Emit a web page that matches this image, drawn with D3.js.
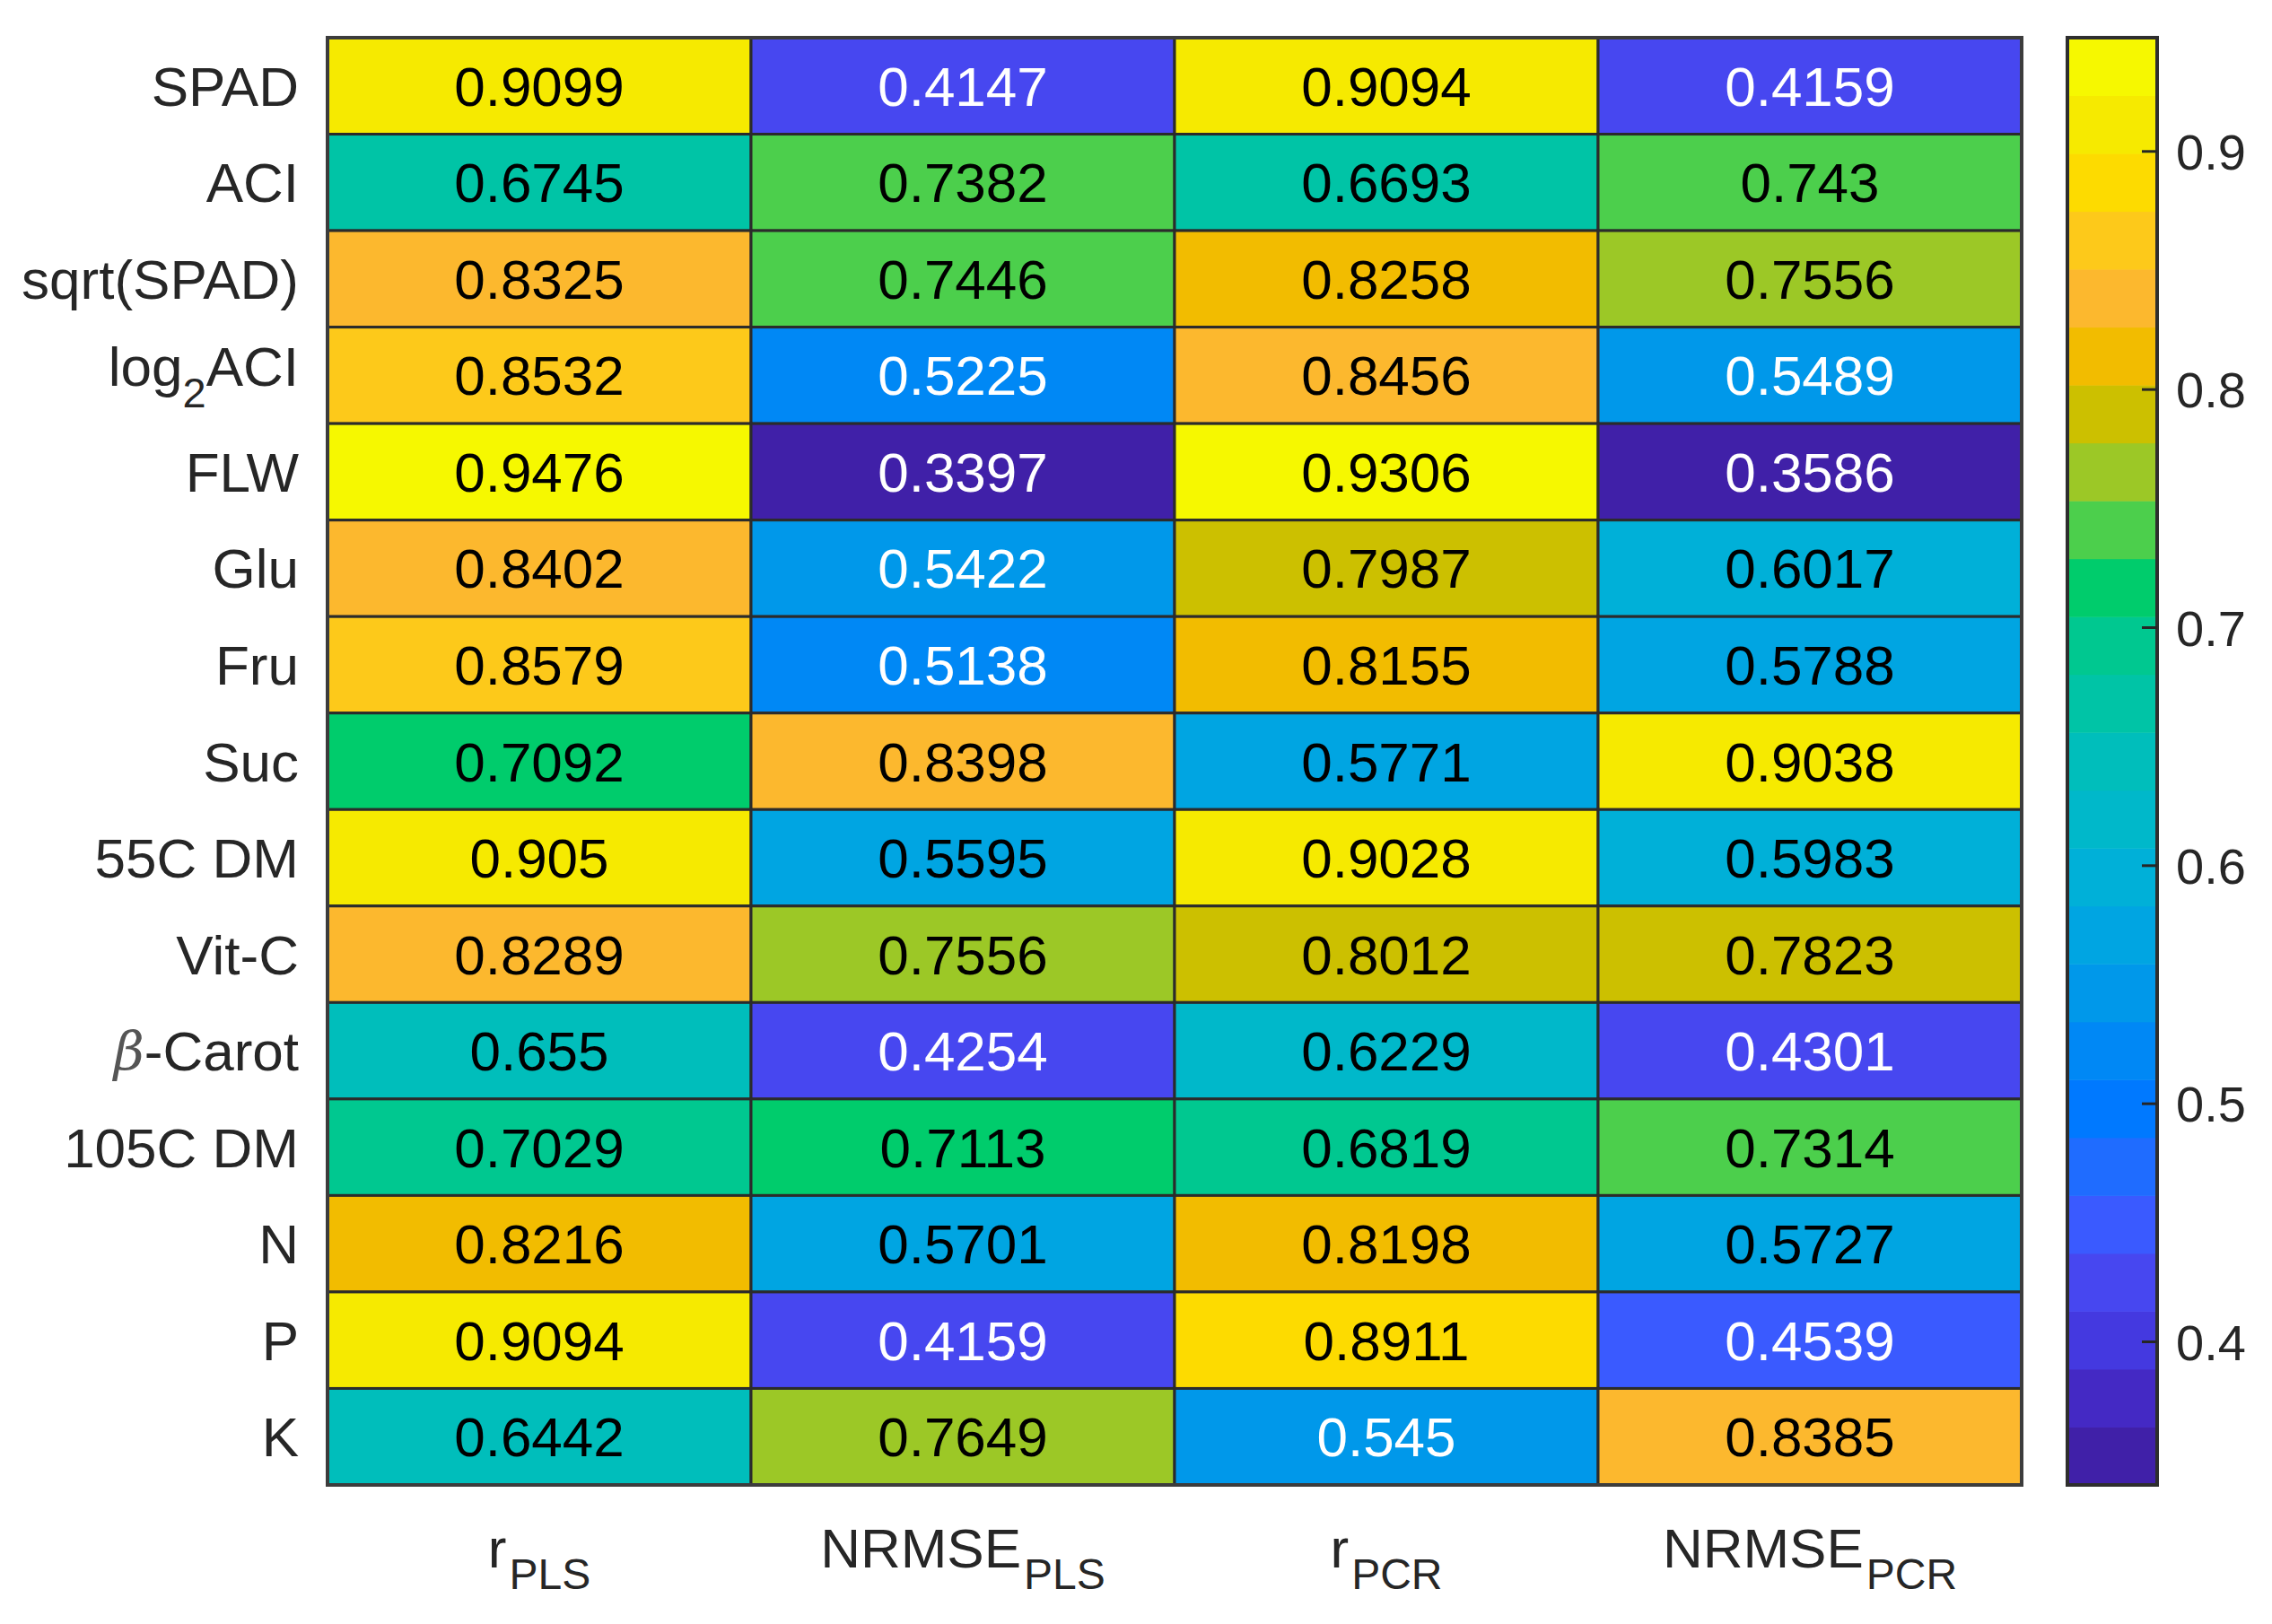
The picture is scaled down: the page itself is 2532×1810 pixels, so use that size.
<!DOCTYPE html>
<html>
<head>
<meta charset="utf-8">
<script src="https://cdn.jsdelivr.net/npm/d3@7"></script>
<style>
  html, body { margin: 0; padding: 0; background: #ffffff; }
  svg { display: block; }
</style>
</head>
<body>
<svg id="chart" width="2532" height="1810"></svg>
<script>
// ---------------- data ----------------
const rowLabels = ["SPAD", "ACI", "sqrt(SPAD)", "log_{2}ACI", "FLW", "Glu", "Fru", "Suc",
                   "55C DM", "Vit-C", "\\beta-Carot", "105C DM", "N", "P", "K"];
const colLabels = ["r_{PLS}", "NRMSE_{PLS}", "r_{PCR}", "NRMSE_{PCR}"];

const rPLS     = [0.9099, 0.6745, 0.8325, 0.8532, 0.9476, 0.8402, 0.8579, 0.7092, 0.905,  0.8289, 0.655,  0.7029, 0.8216, 0.9094, 0.6442];
const nrmsePLS = [0.4147, 0.7382, 0.7446, 0.5225, 0.3397, 0.5422, 0.5138, 0.8398, 0.5595, 0.7556, 0.4254, 0.7113, 0.5701, 0.4159, 0.7649];
const rPCR     = [0.9094, 0.6693, 0.8258, 0.8456, 0.9306, 0.7987, 0.8155, 0.5771, 0.9028, 0.8012, 0.6229, 0.6819, 0.8198, 0.8911, 0.545];
const nrmsePCR = [0.4159, 0.743,  0.7556, 0.5489, 0.3586, 0.6017, 0.5788, 0.9038, 0.5983, 0.7823, 0.4301, 0.7314, 0.5727, 0.4539, 0.8385];

const colorbarTicks = [0.4, 0.5, 0.6, 0.7, 0.8, 0.9];

// discrete colormap (25 levels, low -> high)
const cmap = ["#4020a8", "#4429c4", "#4439e0", "#4747f0", "#3a5aff", "#1f6cff", "#0079ff",
              "#0088f5", "#0098ea", "#00a5e2", "#00b0d8", "#00b8ca", "#00bebb", "#00c4a6",
              "#00c890", "#00cc6c", "#4ccf4c", "#9cc826", "#ccc000", "#f2bc00", "#fcb82e",
              "#fdc91a", "#fddb00", "#f6ea00", "#f6f800"];

// ---------------- layout ----------------
const svg = d3.select("#chart");
const FONT = "'Liberation Sans', Arial, Helvetica, sans-serif";
const plot = { left: 365, right: 2253, top: 42, bottom: 1655 };
const cbar = { left: 2304, right: 2404 };

const series = [rPLS, nrmsePLS, rPCR, nrmsePCR];
const cells = [];
rowLabels.forEach((r, i) => colLabels.forEach((c, j) => cells.push({ row: r, col: c, v: series[j][i] })));

const allVals = cells.map(d => d.v);
const vmin = d3.min(allVals), vmax = d3.max(allVals);

const x = d3.scaleBand().domain(colLabels).range([plot.left, plot.right]);
const y = d3.scaleBand().domain(rowLabels).range([plot.top, plot.bottom]);
const color = d3.scaleQuantize().domain([vmin, vmax]).range(cmap);

// ---------- helper: TeX-like label with subscripts and \beta ----------
function texLabel(sel, str, mainSize, subSize, subShift, subGap) {
  const parts = [];
  const re = /_\{([^}]*)\}|\\beta|[^_\\]+/g;
  let m;
  while ((m = re.exec(str)) !== null) {
    if (m[0] === "\\beta") parts.push({ t: "\u03B2", beta: true });
    else if (m[1] !== undefined) parts.push({ t: m[1], sub: true });
    else parts.push({ t: m[0] });
  }
  let shifted = false;
  parts.forEach(p => {
    const ts = sel.append("tspan").text(p.t);
    if (p.sub) {
      ts.attr("font-size", subSize).attr("dy", subShift).attr("dx", subGap || 0);
      shifted = true;
    } else {
      if (shifted) { ts.attr("dy", -subShift); shifted = false; }
      if (p.beta) ts.attr("font-style", "italic").attr("font-family", "'DejaVu Serif', serif")
                   .attr("font-weight", 300).attr("font-size", mainSize * 0.95).attr("fill", "#555");
    }
  });
}

// ---------------- cells ----------------
const g = svg.append("g");
g.selectAll("rect.cell").data(cells).join("rect")
  .attr("class", "cell")
  .attr("x", d => x(d.col)).attr("y", d => y(d.row))
  .attr("width", x.bandwidth()).attr("height", y.bandwidth())
  .attr("fill", d => color(d.v))
  .attr("stroke", "#2b2b2b").attr("stroke-width", 3);

g.selectAll("text.val").data(cells).join("text")
  .attr("class", "val")
  .attr("x", d => x(d.col) + x.bandwidth() / 2)
  .attr("y", d => y(d.row) + y.bandwidth() / 2 + 22)
  .attr("text-anchor", "middle")
  .attr("font-family", FONT).attr("font-size", 62)
  .attr("fill", d => d3.hcl(color(d.v)).l < 62 ? "#ffffff" : "#000000")
  .text(d => String(d.v));

// outer frame
g.append("rect")
  .attr("x", plot.left).attr("y", plot.top)
  .attr("width", plot.right - plot.left).attr("height", plot.bottom - plot.top)
  .attr("fill", "none").attr("stroke", "#3c3c3c").attr("stroke-width", 4);

// ---------------- row labels ----------------
rowLabels.forEach(r => {
  const hasSub = r.includes("_{");
  const t = svg.append("text")
    .attr("x", 333)
    .attr("y", y(r) + y.bandwidth() / 2 + 22 - (hasSub ? 10 : 0))
    .attr("text-anchor", "end")
    .attr("font-family", FONT).attr("font-size", 62).attr("fill", "#262626");
  texLabel(t, r, 62, 47, 24, 0);
});

// ---------------- column labels ----------------
colLabels.forEach(c => {
  const t = svg.append("text")
    .attr("x", x(c) + x.bandwidth() / 2)
    .attr("y", 1747)
    .attr("text-anchor", "middle")
    .attr("font-family", FONT).attr("font-size", 62).attr("fill", "#262626");
  texLabel(t, c, 62, 48, 24, 3);
});

// ---------------- colorbar ----------------
const cy = d3.scaleLinear().domain([vmin, vmax]).range([plot.bottom, plot.top]);
const bands = cmap.map(c => { const [a, b] = color.invertExtent(c); return { c, a, b }; });
svg.append("g").selectAll("rect").data(bands).join("rect")
  .attr("x", cbar.left).attr("width", cbar.right - cbar.left)
  .attr("y", d => cy(d.b)).attr("height", d => cy(d.a) - cy(d.b) + 0.5)
  .attr("fill", d => d.c);

svg.append("rect")
  .attr("x", cbar.left).attr("y", plot.top)
  .attr("width", cbar.right - cbar.left).attr("height", plot.bottom - plot.top)
  .attr("fill", "none").attr("stroke", "#2e2e2e").attr("stroke-width", 4);

const axis = d3.axisRight(cy).tickValues(colorbarTicks).tickFormat(d3.format(".1f"))
  .tickSizeInner(-17).tickSizeOuter(0).tickPadding(21);
const ax = svg.append("g").attr("transform", `translate(${cbar.right},0)`).call(axis);
ax.select(".domain").remove();
ax.selectAll(".tick line").attr("stroke", "#262626").attr("stroke-width", 3);
ax.selectAll(".tick text").attr("font-family", FONT).attr("font-size", 56)
  .attr("fill", "#262626").attr("dy", "0.36em");
</script>
</body>
</html>
